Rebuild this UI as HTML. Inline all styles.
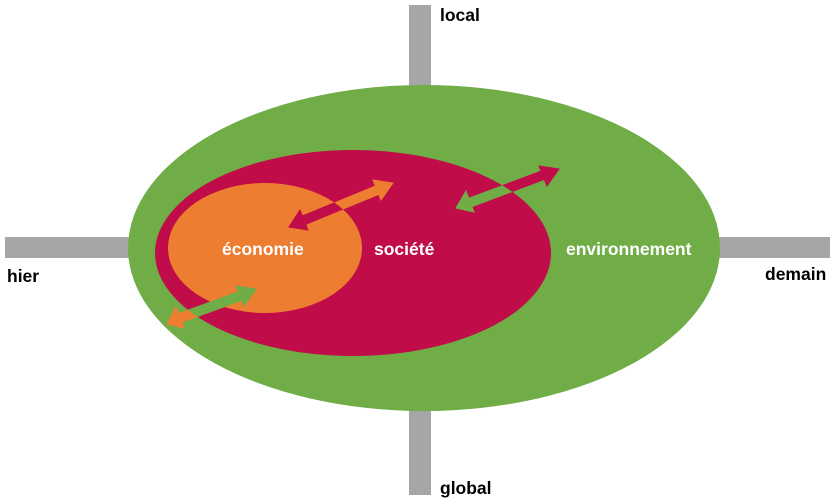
<!DOCTYPE html>
<html><head><meta charset="utf-8"><style>
html,body{margin:0;padding:0;background:#fff;}
svg{display:block;}
text{font-family:"Liberation Sans",sans-serif;font-weight:bold;font-size:17.5px;}
</style></head><body>
<svg width="833" height="504" viewBox="0 0 833 504" xmlns="http://www.w3.org/2000/svg">
<defs>
<clipPath id="cOr"><ellipse cx="265" cy="248" rx="97" ry="65"/></clipPath>
<clipPath id="cCr"><ellipse cx="353" cy="253" rx="198" ry="103"/></clipPath>
<g id="a1"><line x1="302" y1="221" x2="380" y2="189" stroke-width="10"/><polygon points="289,227 300,210 308,230"/><polygon points="393,183 373,180 381,200"/></g>
<g id="a2"><line x1="469" y1="203" x2="546" y2="174" stroke-width="10"/><polygon points="456,208 466,191 474,212"/><polygon points="559,169 539,166 547,186"/></g>
<g id="a3"><line x1="180" y1="318" x2="243" y2="295" stroke-width="10"/><polygon points="167,324 176,307 184,328"/><polygon points="256,289 236,286 244,306"/></g>
</defs>
<rect x="409" y="5" width="22" height="82" fill="#a6a6a6"/>
<rect x="409" y="410" width="22" height="85" fill="#a6a6a6"/>
<rect x="5" y="237" width="125" height="21" fill="#a6a6a6"/>
<rect x="718" y="237" width="112" height="21" fill="#a6a6a6"/>
<ellipse cx="424" cy="248" rx="296" ry="163" fill="#70ad47"/>
<ellipse cx="353" cy="253" rx="198" ry="103" fill="#c00c48"/>
<ellipse cx="265" cy="248" rx="97" ry="65" fill="#ed7d31"/>
<use href="#a1" fill="#ed7d31" stroke="#ed7d31"/>
<use href="#a1" fill="#c00c48" stroke="#c00c48" clip-path="url(#cOr)"/>
<use href="#a2" fill="#c00c48" stroke="#c00c48"/>
<use href="#a2" fill="#70ad47" stroke="#70ad47" clip-path="url(#cCr)"/>
<use href="#a3" fill="#ed7d31" stroke="#ed7d31"/>
<use href="#a3" fill="#70ad47" stroke="#70ad47" clip-path="url(#cCr)"/>
<text x="222" y="255" fill="#fff">économie</text>
<text x="374" y="255" fill="#fff">société</text>
<text x="566" y="255" fill="#fff">environnement</text>
<text x="440" y="21" fill="#000">local</text>
<text x="440" y="494" fill="#000">global</text>
<text x="7" y="282" fill="#000">hier</text>
<text x="765" y="280" fill="#000">demain</text>
</svg>
</body></html>
